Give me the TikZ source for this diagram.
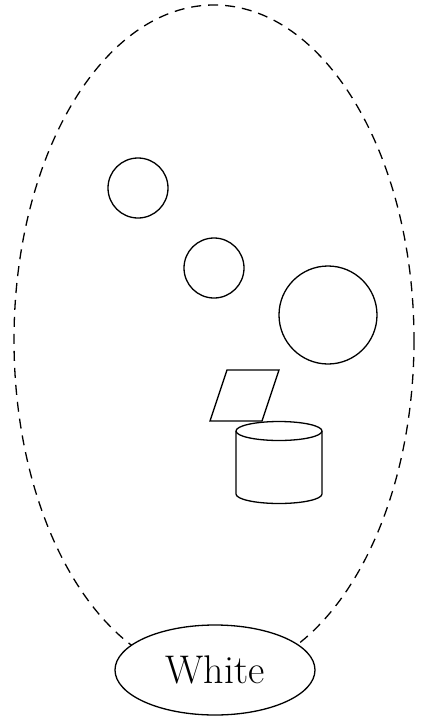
\documentclass[tikz,border=0pt]{standalone}
\usepackage{tikz}
\usetikzlibrary{shapes.geometric}
\tikzset{
  outline/.style={draw=black, line width=0.65pt},
  region/.style={draw=black, line width=0.65pt, dash pattern=on 5pt off 3.5pt},
  blob/.style={outline, circle, inner sep=0pt},
  label/.style={outline, ellipse, fill=white, inner sep=0pt,
    minimum width=100pt, minimum height=45pt, font=\fontsize{20}{24}\selectfont}
}

\begin{document}
\begin{tikzpicture}[x=0.5pt,y=-0.5pt]
\path[use as bounding box] (0,0) rectangle (422,718);

\draw[region] (214,340) ellipse [x radius=200, y radius=335];

\node[blob, minimum size=30pt] (small) at (138,188) {};
\node[blob, minimum size=30pt] (mid) at (214,268) {};
\node[blob, minimum size=49pt] (big) at (328,315) {};

% parallelogram and cylinder
\draw[outline, line join=miter] (227,370) -- (279,370) -- (262,421) -- (210,421) -- cycle;
\draw[outline] (236,431) -- (236,494) arc[start angle=180, end angle=0, x radius=43, y radius=9.5] -- (322,431);
\draw[outline] (279,431) ellipse [x radius=43, y radius=9.5];

\node[label] (white) at (215,670) {White};
\end{tikzpicture}
\end{document}
